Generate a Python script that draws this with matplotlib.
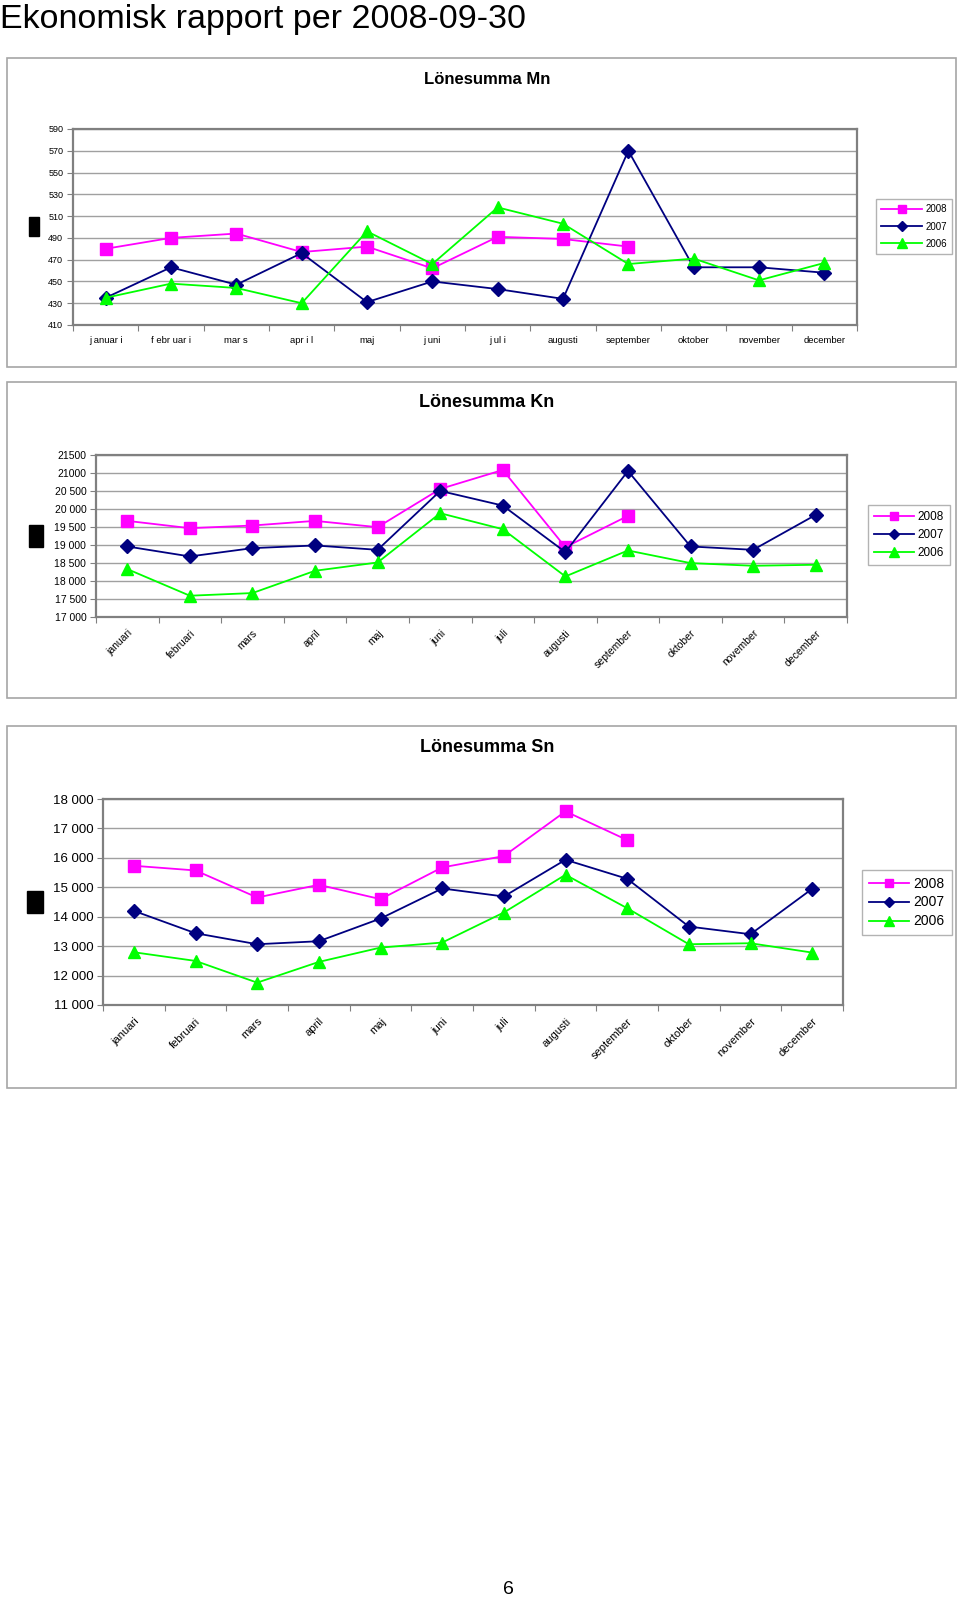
import matplotlib
matplotlib.use("Agg")
import matplotlib.pyplot as plt
from matplotlib.patches import Rectangle

plt.rcParams['font.family'] = ['Liberation Sans', 'DejaVu Sans']

months = ["januari", "februari", "mars", "april", "maj", "juni", "juli",
          "augusti", "september", "oktober", "november", "december"]
months_mn = ["j anuar i", "f ebr uar i", "mar s", "apr i l", "maj", "j uni",
             "j ul i", "augusti", "september", "oktober", "november", "december"]
years = ["2008", "2007", "2006"]

mn_2008 = [480, 490, 494, 477, 482, 462, 491, 489, 482]
mn_2007 = [435, 463, 447, 476, 431, 450, 443, 434, 570, 463, 463, 458]
mn_2006 = [435, 448, 444, 430, 496, 466, 518, 503, 466, 471, 451, 467]
mn_ticks = [410, 430, 450, 470, 490, 510, 530, 550, 570, 590]

kn_2008 = [19670, 19467, 19541, 19670, 19495, 20557, 21084, 18940, 19809]
kn_2007 = [18959, 18682, 18913, 18987, 18866, 20502, 20095, 18802, 21056, 18959, 18866, 19837]
kn_2006 = [18331, 17591, 17665, 18284, 18515, 19883, 19439, 18127, 18848, 18497, 18423, 18451]
kn_ticks = [17000, 17500, 18000, 18500, 19000, 19500, 20000, 20500, 21000, 21500]
kn_labels = ["17 000", "17 500", "18 000", "18 500", "19 000", "19 500",
             "20 000", "20 500", "21000", "21500"]

sn_2008 = [15731, 15572, 14653, 15084, 14597, 15674, 16060, 17580, 16605]
sn_2007 = [14199, 13439, 13065, 13167, 13938, 14960, 14687, 15935, 15289, 13666, 13405, 14948]
sn_2006 = [12793, 12498, 11760, 12464, 12951, 13122, 14143, 15425, 14290, 13065, 13099, 12781]
sn_ticks = [11000, 12000, 13000, 14000, 15000, 16000, 17000, 18000]
sn_labels = ["11 000", "12 000", "13 000", "14 000", "15 000", "16 000", "17 000", "18 000"]

W, H = 960, 1599
fig = plt.figure(figsize=(W / 100, H / 100), dpi=100)


def fbox(x0, y0, x1, y1):
    return [x0 / W, 1 - y1 / H, (x1 - x0) / W, (y1 - y0) / H]


def panel(y0, y1, title, ty, tsize):
    fig.patches.append(Rectangle((7 / W, 1 - y1 / H), (956 - 7) / W, (y1 - y0) / H,
                                 transform=fig.transFigure, fill=False,
                                 edgecolor='#a6a6a6', lw=1.2))
    fig.text(487 / W, 1 - ty / H, title, ha='center', va='center',
             fontsize=tsize, fontweight='bold')


def chart(box, series, ticks, labels, xlabels, tick_fs, x_fs, rot, ms, legbox, leg_fs,
          leg_sp, hl, black):
    ax = fig.add_axes(fbox(*box))
    x = [i + 0.5 for i in range(12)]
    styles = [('#ff00ff', 's', ms), ('#000080', 'D', ms * 0.85), ('#00ff00', '^', ms * 1.1)]
    for (vals, (c, m, s), yr) in zip(series, styles, years):
        ax.plot(x[:len(vals)], vals, color=c, marker=m, markersize=s, lw=1.3,
                markeredgecolor=c, label=yr)
    ax.set_xlim(0, 12)
    ax.set_ylim(ticks[0], ticks[-1])
    ax.set_yticks(ticks)
    ax.set_yticklabels(labels, fontsize=tick_fs)
    ax.set_xticks(range(13))
    ax.set_xticklabels([])
    ax.set_xticks(x, minor=True)
    if rot:
        ax.set_xticklabels(xlabels, minor=True, fontsize=x_fs, rotation=45,
                           ha='right', rotation_mode='anchor')
    else:
        ax.set_xticklabels(xlabels, minor=True, fontsize=x_fs)
    ax.tick_params(axis='x', which='minor', length=0, pad=8)
    ax.tick_params(axis='x', which='major', length=4, color='#808080', direction='out')
    ax.tick_params(axis='y', length=4, color='#808080', direction='out', pad=3)
    ax.yaxis.grid(True, color='#a0a0a0', lw=1)
    ax.set_axisbelow(True)
    for sp in ax.spines.values():
        sp.set_color('#808080')
        sp.set_linewidth(1.6)
    leg = ax.legend(loc='center', bbox_to_anchor=fbox(*legbox),
                    bbox_transform=fig.transFigure, fontsize=leg_fs, frameon=True,
                    fancybox=False, handlelength=hl, borderpad=0.5,
                    labelspacing=leg_sp, handletextpad=0.3, borderaxespad=0)
    leg.get_frame().set_edgecolor('#a0a0a0')
    leg.get_frame().set_linewidth(1)
    for h in leg.legend_handles:
        h.set_markersize(h.get_markersize() * 0.75)
    fig.patches.append(Rectangle((black[0] / W, 1 - black[3] / H),
                                 (black[2] - black[0]) / W, (black[3] - black[1]) / H,
                                 transform=fig.transFigure, color='black'))
    return ax


fig.text(0, 1 - 28 / H, "Ekonomisk rapport per 2008-09-30", ha='left', va='baseline',
         fontsize=24.5)

# Lönesumma Mn
panel(58, 367, "Lönesumma Mn", 79, 12)
chart((73, 129, 857, 325), [mn_2008, mn_2007, mn_2006], mn_ticks,
      [str(t) for t in mn_ticks], months_mn, 6.5, 6.8, False, 8,
      (876, 200, 952, 253), 7, 0.75, 4.2, (29, 217, 39, 236))

# Lönesumma Kn
panel(382, 698, "Lönesumma Kn", 403, 13)
chart((96, 455, 847, 617), [kn_2008, kn_2007, kn_2006], kn_ticks, kn_labels,
      months, 7.5, 7.5, True, 8,
      (866, 504, 952, 566), 8.5, 0.5, 3.4, (29, 525, 43, 547))

# Lönesumma Sn
panel(726, 1088, "Lönesumma Sn", 748, 13)
chart((103, 799, 843, 1005), [sn_2008, sn_2007, sn_2006], sn_ticks, sn_labels,
      months, 9.5, 8, True, 8,
      (862, 872, 952, 933), 10, 0.35, 2.9, (27, 891, 43, 913))

fig.text(508 / W, 1 - 1590 / H, "6", ha='center', va='center', fontsize=14)

fig.savefig("out.png", dpi=100)
